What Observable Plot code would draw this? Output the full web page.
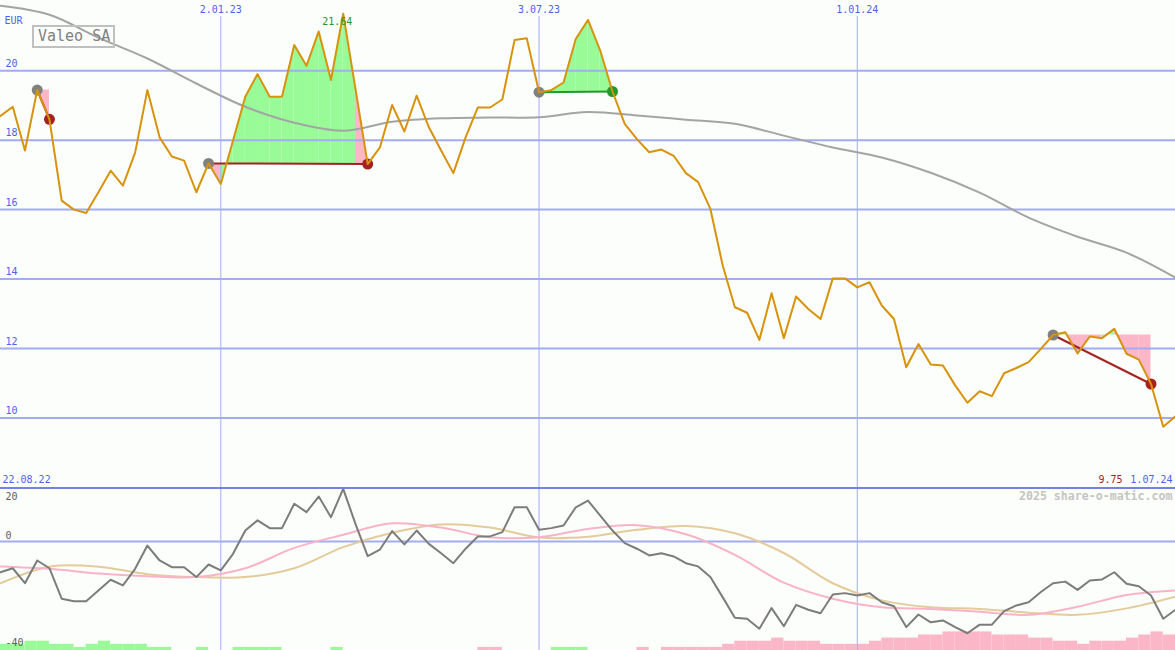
<!DOCTYPE html>
<html><head><meta charset="utf-8">
<script src="https://cdn.jsdelivr.net/npm/d3@7"></script>
<script src="https://cdn.jsdelivr.net/npm/@observablehq/plot@0.6"></script>
<style>
html,body{margin:0;padding:0;background:#fbfefa;}
#wrap{position:relative;width:1175px;height:650px;overflow:hidden;background:#fbfefa;font-family:"DejaVu Sans Mono",monospace;}
#top{position:absolute;left:0;top:0;}
#bot{position:absolute;left:0;top:487px;}
#title{position:absolute;left:32px;top:25px;border:2px solid #c0c0c0;padding:0 3px 0 4px;font-size:15px;line-height:19px;color:#808080;font-family:"DejaVu Sans Mono",monospace;}
svg{overflow:visible;}
</style></head><body>
<div id="wrap"><div id="top"></div><div id="bot"></div><div id="title">Valeo SA</div></div>
<script>
// ---------- data ----------
const startDate = "2022-08-29";           // first weekly close shown
const firstDateLabel = "22.08.22";
const unitLabel = "EUR";
const priceTicks = [10, 12, 14, 16, 18, 20];
const oscTopTick = [20];
const oscTicks = [0, -40];
const dateTicks = ["2023-01-02", "2023-07-03", "2024-01-01"];
const watermark = "2025 share-o-matic.com";

// weekly closing price (EUR)
const price = [
  18.70, 18.96, 17.70, 19.44, 18.60, 16.26, 16.00, 15.90, 16.50, 17.12,
  16.69, 17.64, 19.44, 18.08, 17.53, 17.41, 16.50, 17.33, 16.74, 17.99,
  19.25, 19.90, 19.25, 19.25, 20.74, 20.14, 21.13, 19.73, 21.64, 19.48,
  17.31, 17.79, 19.01, 18.25, 19.28, 18.37, 17.70, 17.05, 18.08, 18.94,
  18.94, 19.17, 20.88, 20.93, 19.38, 19.44, 19.66, 20.91, 21.46, 20.58,
  19.40, 18.47, 18.03, 17.65, 17.73, 17.55, 17.05, 16.79, 16.02, 14.40,
  13.19, 13.03, 12.25, 13.59, 12.30, 13.50, 13.14, 12.85, 14.02, 14.02,
  13.76, 13.91, 13.24, 12.85, 11.46, 12.13, 11.54, 11.51, 10.94, 10.44,
  10.77, 10.63, 11.29, 11.44, 11.61, 11.99, 12.39, 12.47, 11.86, 12.35,
  12.30, 12.57, 11.85, 11.68, 10.98, 9.75, 10.05
];

// long moving average, read every 4 weeks
const maStep = 4;
const movingAvg = [21.87, 21.61, 20.95, 20.35, 19.63, 18.96, 18.50, 18.27, 18.53, 18.63,
  18.65, 18.66, 18.81, 18.71, 18.59, 18.47, 18.13, 17.79, 17.50, 17.06,
  16.49, 15.77, 15.22, 14.76, 14.04];

// oscillator panel: weekly momentum and two smoothed lines (every 4 weeks)
const momentum = [
  -11.5, -10.0, -15.6, -7.1, -10.0, -21.4, -22.3, -22.3, -18.3, -14.3,
  -16.4, -10.2, -1.5, -7.1, -9.6, -9.6, -13.3, -8.6, -10.8, -4.6,
  4.1, 7.9, 5.0, 5.0, 14.1, 11.0, 16.8, 9.1, 19.7, 6.6,
  -5.5, -3.0, 3.9, -1.1, 4.1, -0.9, -4.4, -8.1, -2.7, 1.9,
  1.9, 3.5, 12.8, 12.8, 4.4, 5.0, 6.0, 12.8, 15.3, 9.7,
  4.1, -0.6, -2.7, -5.2, -4.4, -5.6, -8.1, -9.3, -13.3, -20.8,
  -28.5, -28.9, -32.6, -24.9, -31.7, -23.7, -25.5, -26.8, -19.8, -19.3,
  -20.2, -19.3, -22.7, -24.2, -32.0, -27.3, -30.2, -29.5, -32.0, -34.3,
  -31.1, -31.1, -26.0, -23.9, -22.7, -18.9, -15.6, -15.0, -18.1, -14.6,
  -14.2, -11.5, -15.8, -16.7, -20.2, -28.9, -25.5
];
const signalPink = [-9.3, -10.2, -12.0, -13.0, -13.3, -10.0, -2.4, 2.5, 6.8, 5.2,
  1.6, 1.6, 4.7, 6.1, 2.7, -5.0, -15.4, -21.4, -24.6, -25.2,
  -26.3, -27.4, -24.4, -20.0, -18.3];
const signalTan = [-15.6, -9.4, -9.4, -12.2, -13.3, -13.3, -10.0, -2.1, 3.3, 6.4,
  5.2, 1.5, 1.8, 4.4, 5.8, 3.1, -4.3, -15.6, -22.0, -24.6,
  -25.2, -26.6, -27.4, -25.0, -20.6];

// weekly signal-strength bars (+ green, - pink)
const strength = [
  2, 2, 3, 3, 2, 2, 1, 2, 3, 2, 2, 2, 1, 1, 0, 0, 1, 0, 0, 1,
  1, 1, 1, 0, 0, 0, 0, 1, 0, 0, 0, 0, 0, 0, 0, 0, 0, 0, 0, -1,
  -1, 0, 0, 0, 0, 1, 1, 1, 0, 0, 0, 0, -1, 0, -1, -1, -1, -1, -1, -2,
  -3, -3, -3, -4, -3, -3, -3, -2, -2, -2, -2, -3, -4, -4, -4, -5, -5, -6, -6, -6,
  -6, -5, -5, -5, -4, -4, -3, -3, -2, -3, -3, -3, -4, -5, -6, -5
];

// trades (week index of entry / exit, prices)
const buyIdx = [3, 17, 44, 86];
const sellIdx = [4, 30, 50, 94];
const buyPrice = [19.44, 17.33, 19.38, 12.39];
const sellPrice = [18.60, 17.31, 19.40, 10.98];

// ---------- styling ----------
const GRID = "#a3acf0";
const BORDER = "#7282ea";
const BLUE = "#4f5ff0";
const GREEN_FILL = "#98fb98";
const PINK_FILL = "#fbb6c8";
const DARKRED = "#a52222";
const DARKGREEN = "#22992a";
const FONT = "DejaVu Sans Mono";

const W = 1175, H_TOP = 487, H_BOT = 163;
const yTopDomain = [8, 22.02];
const yBotDomain = [-40.75, 20.19];

const start = new Date(startDate + "T00:00:00Z");
const dates = price.map((_, i) => d3.utcDay.offset(start, 7 * i));
const xDomain = [dates[0], dates[dates.length - 1]];
const tickDates = dateTicks.map(s => new Date(s + "T00:00:00Z"));
const fmtDate = d3.utcFormat("%-d.%m.%y");

const priceRows = price.map((v, i) => ({date: dates[i], v}));
const maRows = movingAvg.map((v, k) => ({date: dates[k * maStep], v}));
const pinkRows = signalPink.map((v, k) => ({date: dates[k * maStep], v}));
const tanRows = signalTan.map((v, k) => ({date: dates[k * maStep], v}));
const momRows = momentum.map((v, i) => ({date: dates[i], v}));

const trades = buyIdx.map((b, t) => ({
  d0: dates[b], d1: dates[sellIdx[t]], p0: buyPrice[t], p1: sellPrice[t],
  color: sellPrice[t] >= buyPrice[t] ? DARKGREEN : DARKRED
}));

const fills = [];
buyIdx.forEach((b, t) => {
  for (let i = b; i < sellIdx[t]; i++) {
    const color = price[i + 1] >= buyPrice[t] ? GREEN_FILL : PINK_FILL;
    const seg = t + "-" + i;
    fills.push({date: dates[i], y1: buyPrice[t], y2: price[i], seg, color});
    fills.push({date: dates[i + 1], y1: buyPrice[t], y2: price[i + 1], seg, color});
  }
});

const maxI = d3.maxIndex(price), minV = d3.min(price);
const pxTop = H_TOP / (yTopDomain[1] - yTopDomain[0]);
const pxBot = H_BOT / (yBotDomain[1] - yBotDomain[0]);
const barUnit = 3.1 / pxBot;

const barRows = strength.map((s, i) => ({d0: dates[i], d1: dates[i + 1], s}))
  .filter(d => d.s !== 0)
  .map(d => ({...d, y2: yBotDomain[0] + Math.abs(d.s) * barUnit, color: d.s > 0 ? GREEN_FILL : PINK_FILL}));

const common = {
  width: W, marginTop: 0, marginBottom: 0, marginLeft: 0, marginRight: 0,
  x: {type: "utc", domain: xDomain, axis: null},
  color: {type: "identity"},
  style: {background: "transparent", fontFamily: FONT, fontSize: "10px", overflow: "visible"}
};

const topChart = Plot.plot({
  ...common,
  height: H_TOP,
  y: {domain: yTopDomain, axis: null},
  marks: [
    Plot.area(fills, {x1: "date", y1: "y1", y2: "y2", z: "seg", fill: "color"}),
    Plot.ruleY(priceTicks, {stroke: GRID, strokeWidth: 2}),
    Plot.ruleX(tickDates, {y1: yTopDomain[0], y2: yTopDomain[1] - 16 / pxTop, stroke: GRID, strokeWidth: 1}),
    Plot.line(maRows, {x: "date", y: "v", stroke: "#a4a4a4", strokeWidth: 2, curve: "catmull-rom"}),
    Plot.link(trades, {x1: "d0", y1: "p0", x2: "d1", y2: "p1", stroke: "color", strokeWidth: 2}),
    Plot.dot(trades, {x: "d0", y: "p0", r: 5.5, fill: "#808080"}),
    Plot.dot(trades, {x: "d1", y: "p1", r: 5.5, fill: "color"}),
    Plot.line(priceRows, {x: "date", y: "v", stroke: "#d8920c", strokeWidth: 2}),
    Plot.text(tickDates, {x: d => d, text: d => fmtDate(d), frameAnchor: "top", lineAnchor: "middle", dy: 9, fill: BLUE}),
    Plot.text(priceTicks, {y: d => d, text: d => String(d), frameAnchor: "left", textAnchor: "start", dx: 5, dy: -7, fill: BLUE}),
    Plot.text([unitLabel], {text: d => d, frameAnchor: "top-left", textAnchor: "start", lineAnchor: "middle", dx: 4, dy: 20, fill: BLUE}),
    Plot.text([priceRows[maxI]], {x: "date", y: "v", text: d => d.v.toFixed(2), dx: -6, dy: 8, fill: DARKGREEN}),
    Plot.text([firstDateLabel], {text: d => d, frameAnchor: "bottom-left", textAnchor: "start", lineAnchor: "middle", dx: 2, dy: -8, fill: BLUE}),
    Plot.text([dates[dates.length - 1]], {text: d => fmtDate(d), frameAnchor: "bottom-right", textAnchor: "end", lineAnchor: "middle", dx: -3, dy: -8, fill: BLUE}),
    Plot.text([minV], {text: d => d.toFixed(2), frameAnchor: "bottom-right", textAnchor: "end", lineAnchor: "middle", dx: -53, dy: -8, fill: DARKRED})
  ]
});
document.getElementById("top").appendChild(topChart);

const botChart = Plot.plot({
  ...common,
  height: H_BOT,
  y: {domain: yBotDomain, axis: null},
  marks: [
    Plot.rect(barRows, {x1: "d0", x2: "d1", y1: yBotDomain[0], y2: "y2", fill: "color"}),
    Plot.ruleY([0], {stroke: GRID, strokeWidth: 2}),
    Plot.ruleX(tickDates, {stroke: GRID, strokeWidth: 1}),
    Plot.line(tanRows, {x: "date", y: "v", stroke: "#e4cb9c", strokeWidth: 2, curve: "catmull-rom"}),
    Plot.line(pinkRows, {x: "date", y: "v", stroke: "#f9b3c8", strokeWidth: 2, curve: "catmull-rom"}),
    Plot.line(momRows, {x: "date", y: "v", stroke: "#7c7c7c", strokeWidth: 2}),
    Plot.ruleY([20], {stroke: BORDER, strokeWidth: 2}),
    Plot.text(oscTopTick, {y: d => d, text: d => String(d), frameAnchor: "left", textAnchor: "start", dx: 5, dy: 9, fill: "#606060"}),
    Plot.text(oscTicks, {y: d => d, text: d => String(d), frameAnchor: "left", textAnchor: "start", dx: 5, dy: -6, fill: "#606060"}),
    Plot.text([watermark], {text: d => d, frameAnchor: "top-right", textAnchor: "end", lineAnchor: "middle", dx: -3, dy: 9,
      fill: "#c4c4c4", fontSize: 11.6, fontWeight: "bold"})
  ]
});
document.getElementById("bot").appendChild(botChart);
</script>
</body></html>
